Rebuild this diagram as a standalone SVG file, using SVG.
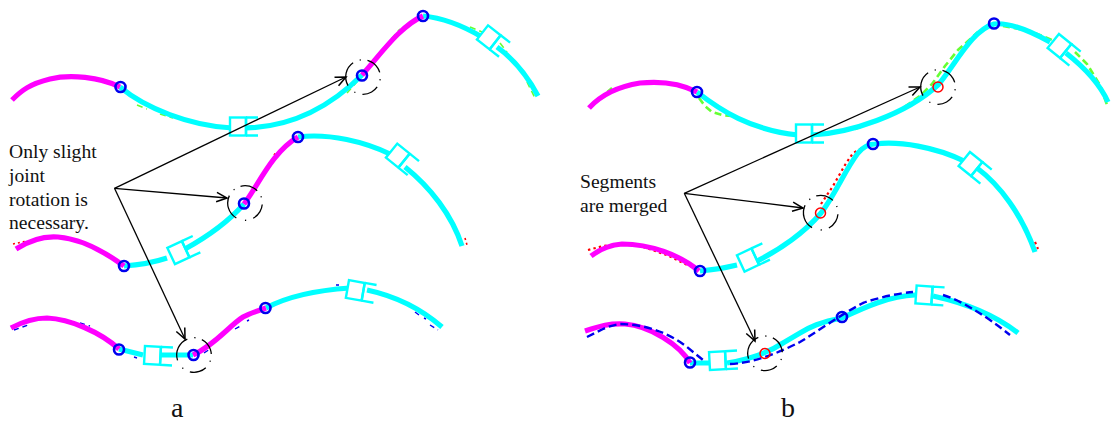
<svg xmlns="http://www.w3.org/2000/svg" width="1111" height="423" viewBox="0 0 1111 423">
<style>
.c{fill:none;stroke:#00ffff;stroke-width:5.2;stroke-linejoin:round}
.m{fill:none;stroke:#ff00ff;stroke-width:5.2;stroke-linejoin:round}
.g{fill:none;stroke:#66ff33;stroke-width:1.6;stroke-dasharray:6 4}
.g2{fill:none;stroke:#66ff33;stroke-width:2.6;stroke-dasharray:7 4}
.r{fill:none;stroke:#ff0000;stroke-width:1.6;stroke-dasharray:2 3}
.r2{fill:none;stroke:#ff0000;stroke-width:2.2;stroke-dasharray:2.4 3.2}
.bd{fill:none;stroke:#0000ee;stroke-width:1.4;stroke-dasharray:5 4}
.bd2{fill:none;stroke:#0000ee;stroke-width:2.4;stroke-dasharray:8 4}
.j{fill:none;stroke:#0000ee;stroke-width:2.6}
.x{fill:none;stroke:#ff0000;stroke-width:1.5}
.d{fill:none;stroke:#000;stroke-width:1.3;stroke-dasharray:85 24 4 22 60 22 4 24 57 24 4 30}
.a{fill:none;stroke:#000;stroke-width:1.3;marker-end:url(#h)}
.s{fill:#fff;stroke:#00ffff;stroke-width:2.4}
.t{font-family:"Liberation Serif","Times New Roman",serif;fill:#111}
.l{font-size:19.6px}
.n{font-size:28px}
</style>
<defs>
<marker id="h" markerUnits="userSpaceOnUse" markerWidth="14" markerHeight="12" refX="10" refY="5" orient="auto" viewBox="0 0 12 10"><path d="M1,1 L10,5 L1,9" fill="none" stroke="#000" stroke-width="1.3"/></marker>
<g id="slider" class="s"><rect x="-8" y="-9" width="16" height="18"/><path d="M8,-9H20M8,9H20M8,-9V9" fill="none"/></g>
<circle id="ring" r="17.3" pathLength="360" class="d"/>
</defs>

<g id="a-top">
<path class="g" d="M16,98 L19,94M137,105 L147,109M160,114 L173,118M347,93 L355,84 L366,70 L379,55 L393,37 L400,29M470,27 L482,32M500,43 L507,52M527,82 L535,98"/>
<path class="c" d="M120,87 C145,108 190,126 232,128M246,128 C285,127 325,112 362,75"/>
<path class="c" d="M423,16 C445,18 465,27 482,37M497,47 C515,60 528,77 538,96"/>
<path class="m" d="M12,100 C22,90 30,84 50,79 C70,74 100,77 120,87"/>
<path class="m" d="M362,75 C380,55 400,26 423,16"/>
<use href="#slider" transform="translate(238,126.500)"/>
<use href="#slider" transform="translate(488.800,37.400) rotate(38)"/>
<circle class="j" cx="120.500" cy="87" r="5"/>
<circle class="j" cx="362" cy="75.500" r="5"/>
<circle class="j" cx="423" cy="16" r="5"/>
<use href="#ring" transform="translate(363,77) rotate(150)"/>
</g>

<g id="a-middle">
<path class="r" d="M13,244 L27,241M274,155 L277,151M465,238 L467,245"/>
<path class="c" d="M124,266 C140,265 155,262 167,258M185,249 C205,238 228,222 244,204"/>
<path class="c" d="M298,137 C330,133 365,142 390,154M405,167 C430,187 452,215 462,246"/>
<path class="m" d="M16,249 C30,240 45,236 58,237 C82,239 105,252 124,266"/>
<path class="m" d="M244,204 C258,186 272,152 298,137"/>
<use href="#slider" transform="translate(178.400,252.600) rotate(-25)"/>
<use href="#slider" transform="translate(397.800,155.600) rotate(39)"/>
<circle class="j" cx="124" cy="266" r="5"/>
<circle class="j" cx="244" cy="203.500" r="5"/>
<circle class="j" cx="298" cy="137" r="5"/>
<use href="#ring" transform="translate(245,203) rotate(120)"/>
</g>

<g id="a-bottom">
<path class="bd" d="M14,330 L28,325M80,323 L90,326M134,357 L137,358M204,353 L210,349M235,329 L242,325M247,321 L249,320M336,285 L339,285M415,312 L419,315M424,318 L426,319M430,325 L438,330"/>
<path class="c" d="M119,349 L143,355M160,355 L193,355"/>
<path class="c" d="M266,308 C290,295 320,290 350,288M367,290 C395,296 420,308 442,327"/>
<path class="m" d="M11,328 C24,321 35,318 47,318 C70,319 100,332 119,349"/>
<path class="m" d="M193,355 C215,345 230,325 243,317 C250,313 258,311 266,308"/>
<use href="#slider" transform="translate(152.500,355.400) rotate(3)"/>
<use href="#slider" transform="translate(355.300,290.400) rotate(10)"/>
<circle class="j" cx="119" cy="349.500" r="5"/>
<circle class="j" cx="193.500" cy="355" r="5"/>
<circle class="j" cx="265.500" cy="308" r="5"/>
<use href="#ring" transform="translate(194,355) rotate(162)"/>
</g>

<g id="b-top">
<path class="g2" d="M599,99 L612,88M699,98 L705,106 L712,112 L722,115 L732,116M855,129 L873,122 L900,110 L920,96 L932,84 L945,66 L958,50 L967,42 L978,32M1003,26 L1030,31 L1052,40M1075,52 L1087,64 L1100,85 L1107,105"/>
<path class="c" d="M697,92 C720,110 750,130 798,135M812,135 C850,133 905,115 938,85 C955,65 972,30 994,24 C1010,22 1032,32 1050,42M1066,53 C1080,64 1098,80 1108,102"/>
<path class="m" d="M589,108 C600,96 615,87 640,83 C660,81 680,83 697,92"/>
<use href="#slider" transform="translate(804,133.500)"/>
<use href="#slider" transform="translate(1059.500,46) rotate(39)"/>
<circle class="j" cx="697" cy="92" r="5"/>
<circle class="j" cx="994" cy="23.500" r="5"/>
<circle class="x" cx="938" cy="87" r="5"/>
<use href="#ring" transform="translate(938,87) rotate(150)"/>
</g>

<g id="b-middle">
<path class="r2" d="M588,250 L603,246 L620,244 L640,246 L667,255 L683,263 L697,269M821,204 L833,186 L845,165 L853,153 L866,146M1035,242 L1038,249"/>
<path class="c" d="M700,271 C712,270 725,268 737,265M755,262 C780,250 805,232 821,213 C835,195 845,170 858,153 C864,146 870,144 875,144 C900,141 935,147 964,161M977,168 C1000,185 1022,215 1035,252"/>
<path class="m" d="M591,256 C600,249 610,245 622,244 C650,244 680,255 699,271"/>
<use href="#slider" transform="translate(748,260) rotate(-25)"/>
<use href="#slider" transform="translate(970.500,164) rotate(39)"/>
<circle class="j" cx="700" cy="271" r="5"/>
<circle class="j" cx="873" cy="144" r="5"/>
<circle class="x" cx="820.500" cy="213" r="5"/>
<use href="#ring" transform="translate(820.700,212.700) rotate(120)"/>
</g>

<g id="b-bottom">
<path class="c" d="M690,363 L710,363M727,363 C745,360 765,355 783,343 L800,333 C810,327 820,322 842,318 C865,307 890,296 915,295M933,296 C965,303 995,315 1018,333"/>
<path class="m" d="M585,331 C600,326 610,323 625,324 C650,326 680,345 690,363"/>
<path class="bd2" d="M587,337 L603,329 Q612,325 620,324 C640,324 665,330 687,347 L703,360M730,364 C755,363 780,352 800,342 C820,330 840,315 863,303 C880,297 900,293 913,292M943,295 C960,300 985,315 1010,335"/>
<use href="#slider" transform="translate(717.500,360.600) rotate(-3)"/>
<use href="#slider" transform="translate(924,295) rotate(4)"/>
<circle class="j" cx="690" cy="362.500" r="5"/>
<circle class="j" cx="842" cy="317" r="5"/>
<circle class="x" cx="765" cy="353.500" r="5"/>
<use href="#ring" transform="translate(765,353.300) rotate(162)"/>
</g>

<g id="connectors">
<path class="a" d="M114.500,188.300 L346,77"/>
<path class="a" d="M114.500,188.300 L227,198"/>
<path class="a" d="M114.500,188.300 L185,339"/>
<path class="a" d="M684.300,193.300 L920,87"/>
<path class="a" d="M684.300,193.300 L803,208"/>
<path class="a" d="M684.300,193.300 L755,341"/>
</g>

<g id="labels">
<text class="t l" x="9" y="158">Only slight</text>
<text class="t l" x="9" y="182">joint</text>
<text class="t l" x="9" y="206">rotation is</text>
<text class="t l" x="9" y="229">necessary.</text>
<text class="t l" x="580" y="188">Segments</text>
<text class="t l" x="580" y="212">are merged</text>
<text class="t n" x="171" y="417">a</text>
<text class="t n" x="781" y="417">b</text>
</g>
</svg>
